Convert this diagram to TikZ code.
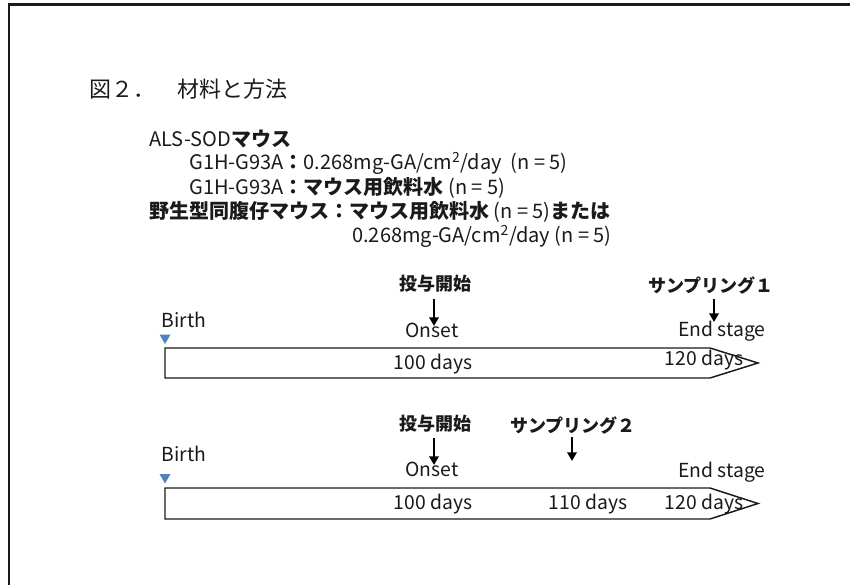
\documentclass[tikz,border=0pt]{standalone}
\usepackage{fontspec}
\setmainfont{Noto Sans CJK JP}
\usetikzlibrary{arrows.meta}
\definecolor{tri}{RGB}{79,129,189}
\definecolor{ink}{RGB}{26,26,26}
\tikzset{
  txt/.style={anchor=west,inner sep=0pt,text=ink,font=\fontsize{15pt}{18pt}\selectfont},
  lbl/.style={inner sep=0pt,text=ink,font=\fontsize{14.5pt}{17pt}\selectfont},
  head/.style={inner sep=0pt,text=ink,font=\fontsize{13.5pt}{16pt}\selectfont\bfseries},
  timebox/.style={draw=ink,line width=1.1pt,fill=white,line join=miter},
  birthmark/.style={fill=tri,draw=none},
  downarrow/.style={draw=black,line width=1.8pt,-{Triangle[length=6.5pt,width=7pt]}},
  frameline/.style={draw=ink,line width=1.6pt}
}
\begin{document}
\begin{tikzpicture}[x=0.75pt,y=-0.75pt]
\useasboundingbox (0,0) rectangle (850,585);
% frame
\coordinate (fTR) at (851,4.5);
\coordinate (fTL) at (9,4.5);
\coordinate (fBL) at (9,586);
\draw[frameline] (fTR) -- (fTL) -- (fBL);
% texts
\node[txt,font=\fontsize{16.5pt}{20pt}\selectfont] (title) at (89,89) {図２．　材料と方法};
\node[txt] (als) at (149,139) {ALS-SOD\textbf{マウス}};
\node[txt] (l1) at (189,163) {G1H-G93A\textbf{：}0.268mg-GA/cm\textsuperscript{2}/day\ \ (n = 5)};
\node[txt] (l2) at (189,188) {G1H-G93A\textbf{：マウス用飲料水} (n = 5)};
\node[txt] (l3) at (149,212) {\textbf{野生型同腹仔マウス：マウス用飲料水} (n = 5)\textbf{または}};
\node[txt] (l4) at (352,236) {0.268mg-GA/cm\textsuperscript{2}/day (n = 5)};
% timeline 1
\draw[timebox] (165,348) -- (710,348) -- (758,363) -- (710,378) -- (165,378) -- cycle;
\draw[birthmark] (159.5,334.5) -- (170.5,334.5) -- (165,344) -- cycle;
\node[lbl] (birthA) at (184,320) {Birth};
\node[head] (startA) at (435,284) {投与開始};
\node[lbl] (onsetA) at (432,330) {Onset};
\node[lbl] (d100A) at (433,364) {100 days};
\node[head] (sampA) at (711,285) {サンプリング１};
\node[lbl] (endA) at (722,331) {End stage};
\node[lbl] (d120A) at (704,360) {120 days};
\coordinate (aS1) at (434,299);
\coordinate (aE1) at (434,326);
\coordinate (aS2) at (714,299);
\coordinate (aE2) at (714,322);
\draw[downarrow] (aS1) -- (aE1);
\draw[downarrow] (aS2) -- (aE2);
% timeline 2
\draw[timebox] (165,488) -- (710,488) -- (758,503.5) -- (710,519) -- (165,519) -- cycle;
\draw[birthmark] (159.5,474) -- (170.5,474) -- (165,483.5) -- cycle;
\node[lbl] (birthB) at (184,454) {Birth};
\node[head] (startB) at (435,424) {投与開始};
\node[lbl] (onsetB) at (432,469) {Onset};
\node[head] (sampB) at (573,425) {サンプリング２};
\node[lbl] (endB) at (722,472) {End stage};
\node[lbl] (d100B) at (433,504) {100 days};
\node[lbl] (d110B) at (588,504) {110 days};
\node[lbl] (d120B) at (704,504) {120 days};
\coordinate (bS1) at (434,438);
\coordinate (bE1) at (434,465);
\coordinate (bS2) at (572,437);
\coordinate (bE2) at (572,461);
\draw[downarrow] (bS1) -- (bE1);
\draw[downarrow] (bS2) -- (bE2);
\end{tikzpicture}
\end{document}
